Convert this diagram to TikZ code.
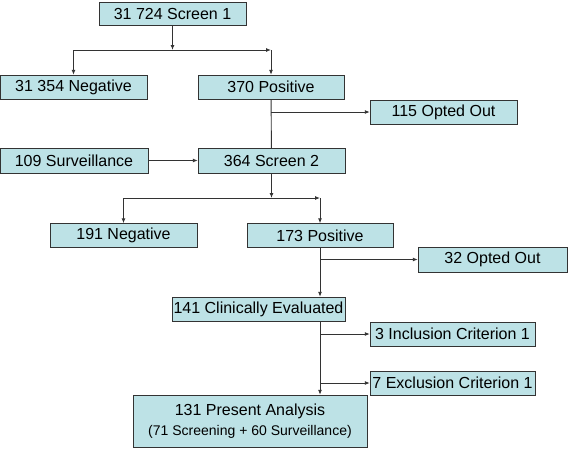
\documentclass[tikz,border=0pt]{standalone}
\usepackage{fontspec}
\setmainfont{Liberation Sans}
\usetikzlibrary{arrows.meta}
\definecolor{boxfill}{HTML}{BDE2E6}
\definecolor{linegray}{HTML}{333333}
\begin{document}
\begin{tikzpicture}[x=1pt, y=-1pt,
    box/.style={draw=linegray, fill=boxfill, rectangle, inner sep=0pt, minimum height=24pt, align=center, font=\fontsize{16}{19}\selectfont},
    arr/.style={-{Latex[length=5pt,width=4pt]}, draw=linegray, line width=0.9pt},
    ln/.style={draw=linegray, line width=0.9pt}]
        \useasboundingbox (0,0) rectangle (568,448);

        % Primo screening
        \node[box, minimum width=147pt, minimum height=23pt] at (172.5, 13.5) (screen1) {31 724 Screen 1};
        \node[box, minimum width=147pt] at (73.5, 87) (neg1) {31 354 Negative};
        \node[box, minimum width=146pt] at (271, 87) (pos1) {370 Positive};
        \node[box, minimum width=147pt] at (443.5, 112) (out1) {115 Opted Out};

        % Secondo screening
        \node[box, minimum width=148pt, minimum height=25pt] at (74, 160.5) (surv) {109 Surveillance};
        \node[box, minimum width=147pt, minimum height=25pt] at (271.5, 160.5) (screen2) {364 Screen 2};
        \node[box, minimum width=147pt] at (123.5, 235.5) (neg2) {191 Negative};
        \node[box, minimum width=146pt] at (320, 235.5) (pos2) {173 Positive};
        \node[box, minimum width=149pt, minimum height=25pt] at (492.5, 259.5) (out2) {32 Opted Out};

        % Valutazione clinica
        \node[box, minimum width=173pt] at (258.5, 309) (clin) {141 Clinically Evaluated};
        \node[box, minimum width=165pt] at (452.5, 334) (incl) {3 Inclusion Criterion 1};
        \node[box, minimum width=165pt] at (452.5, 383) (excl) {7 Exclusion Criterion 1};
        \node[box, minimum width=234pt, minimum height=52pt] at (250, 421) (present) {131 Present Analysis\\[1pt]{\fontsize{14}{17}\selectfont (71 Screening + 60 Surveillance)}};

        % Punti di snodo
        \coordinate (split1) at (172.5, 50);
        \coordinate (corner1) at (271, 50);
        \coordinate (split2) at (271.5, 198);
        \coordinate (corner2) at (320, 198);

        % Frecce
        \draw[arr] (screen1) -- (split1);
        \draw[arr] (split1) -| (neg1);
        \draw[arr] (split1) -- (corner1);
        \draw[arr] (corner1) -- (pos1);
        \draw[ln] (pos1) -- (screen2);
        \draw[arr] (pos1 |- out1) -- (out1);
        \draw[arr] (surv) -- (screen2);
        \draw[arr] (screen2) -- (split2);
        \draw[arr] (split2) -| (neg2);
        \draw[arr] (split2) -- (corner2);
        \draw[arr] (corner2) -- (pos2);
        \draw[arr] (pos2) -- (pos2 |- clin.north);
        \draw[arr] (pos2 |- out2) -- (out2);
        \draw[arr] (pos2 |- clin.south) -- (pos2 |- present.north);
        \draw[arr] (pos2 |- incl) -- (incl);
        \draw[arr] (pos2 |- excl) -- (excl);
    \end{tikzpicture}
\end{document}
